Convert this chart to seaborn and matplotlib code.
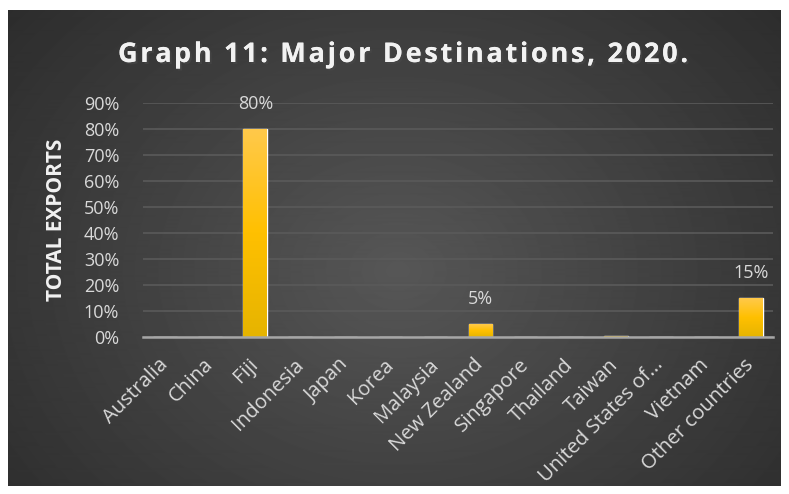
import numpy as np
import pandas as pd
import seaborn as sns
import matplotlib.pyplot as plt
import matplotlib.patheffects as pe
from matplotlib.ticker import PercentFormatter
from matplotlib.colors import LinearSegmentedColormap

# data
countries = ['Australia', 'China', 'Fiji', 'Indonesia', 'Japan', 'Korea', 'Malaysia',
             'New Zealand', 'Singapore', 'Thailand', 'Taiwan', 'United States of...',
             'Vietnam', 'Other countries']
shares = [0.0, 0.0, 0.80, 0.0, 0.0, 0.0, 0.0, 0.05, 0.0, 0.0, 0.003, 0.0, 0.0, 0.15]
title = 'Graph 11: Major Destinations, 2020.'

df = pd.DataFrame({'country': countries, 'share': shares})

sns.set_theme(style='dark')
plt.rcParams['font.family'] = ['Open Sans', 'DejaVu Sans']
txt = '#d9d9d9'

fig = plt.figure(figsize=(7.89, 4.94), dpi=100, facecolor='white')

# dark radial backdrop of the chart area
bg = fig.add_axes([0, 0, 1, 1], zorder=0)
bg.set_xlim(0, 789)
bg.set_ylim(494, 0)
bg.axis('off')
yy, xx = np.mgrid[0:475, 0:773]
r = np.sqrt(((xx - 390) / 520) ** 2 + ((yy - 260) / 420) ** 2)
shade = np.clip(0.34 - 0.17 * r, 0.15, 0.34)
bg.imshow(shade, cmap='gray', vmin=0, vmax=1, extent=(8, 781, 486, 11),
          aspect='auto', interpolation='bilinear')

ax = fig.add_axes([0.181, 0.318, 0.799, 0.4735], zorder=1)
ax.set_facecolor('none')
sns.barplot(data=df, x='country', y='share', color='#ffc000', width=0.53,
            ax=ax, zorder=3)

# gold gradient inside each bar
gold = LinearSegmentedColormap.from_list('gold', ['#e6b400', '#ffc000', '#ffc94a'])
grad = np.linspace(0, 1, 100).reshape(-1, 1)
for p in ax.patches:
    x0, y0 = p.get_x(), p.get_y()
    w, h = p.get_width(), p.get_height()
    if h <= 0:
        continue
    im = ax.imshow(grad, cmap=gold, origin='lower', aspect='auto',
                   extent=(x0, x0 + w, y0, y0 + h), zorder=4)
    im.set_clip_path(p)

ax.set_xlim(-0.5, len(countries) - 0.5)
ax.set_ylim(0, 0.9)
ax.set_yticks(np.arange(0, 0.91, 0.1))
ax.yaxis.set_major_formatter(PercentFormatter(1.0, decimals=0))
ax.grid(axis='y', color='#5a5a5a', linewidth=1.2, zorder=0)
ax.grid(axis='x', visible=False)
for s in ['top', 'right', 'left']:
    ax.spines[s].set_visible(False)
ax.spines['bottom'].set_color('#a6a6a6')
ax.spines['bottom'].set_linewidth(1.8)
ax.spines['bottom'].set_zorder(5)

ax.tick_params(axis='y', colors=txt, labelsize=13, length=0, pad=17)
ax.tick_params(axis='x', colors=txt, labelsize=14.6, length=0, pad=18)
plt.setp(ax.get_xticklabels(), rotation=45, ha='right', va='center',
         rotation_mode='anchor')

for i, v in enumerate(shares):
    if v >= 0.01:
        ax.text(i, v + 0.062, f'{v:.0%}', ha='center', va='bottom',
                color=txt, fontsize=13, zorder=6)

ax.set_xlabel('')
ax.set_ylabel('TOTAL EXPORTS', color='#f2f2f2', fontsize=15, fontweight='bold',
              va='center')
ax.yaxis.set_label_coords(-0.1365, 0.5)

# title with wide letter spacing, drawn one glyph at a time
tkw = dict(color='#f2f2f2', fontsize=19.5, fontweight='bold', va='baseline',
           ha='left', path_effects=[pe.withSimplePatchShadow(offset=(1.5, -1.5), alpha=0.6),
                                    pe.Normal()])
renderer = fig.canvas.get_renderer()


def width_px(s):
    t = fig.text(0, 0, s + '|', **tkw)
    b = fig.text(0, 0, '|', **tkw)
    w = t.get_window_extent(renderer).width - b.get_window_extent(renderer).width
    t.remove()
    b.remove()
    return w


full = width_px(title)
track = (570 - full) / (len(title) - 1)
start = 403 - 570 / 2
for i, ch in enumerate(title):
    if ch == ' ':
        continue
    x = start + width_px(title[:i]) + track * i
    fig.text(x / 789, 1 - 62 / 494, ch, **tkw)

fig.savefig('out.png', dpi=100, facecolor='white')
